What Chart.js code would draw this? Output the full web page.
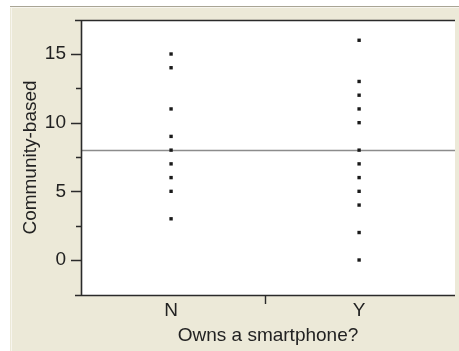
<!DOCTYPE html>
<html>
<head>
<meta charset="utf-8">
<script src="https://cdn.jsdelivr.net/npm/chart.js@4"></script>
<style>
  html, body { margin: 0; padding: 0; background: #ffffff; }
  #wrap { width: 459px; height: 351px; }
</style>
</head>
<body>
<div id="wrap"><canvas id="c" width="459" height="351"></canvas></div>
<script>
// Categories on the x axis (placed at 0 and 1)
const categories = ['N', 'Y'];
// Community-based scores per group
const valuesN = [15, 14, 11, 9, 8, 7, 6, 5, 3];
const valuesY = [16, 13, 12, 11, 10, 8, 7, 6, 5, 4, 2, 0];
// Tick values on the y axis
const majorTicks = [0, 5, 10, 15];
const minorTicks = [2.5, 7.5, 12.5];
// Horizontal reference line
const referenceLine = [8];

const pts = (vals, i) => vals.map(v => ({ x: i, y: v }));

const FONT = 'Liberation Sans, Arial, sans-serif';
const INK = '#222222';

const framePlugin = {
  id: 'frame',
  beforeDraw(chart) {
    const ctx = chart.ctx;
    const W = chart.width, H = chart.height;
    ctx.save();
    ctx.fillStyle = '#ffffff';
    ctx.fillRect(0, 0, W, H);
    ctx.fillStyle = '#ECE9D8';
    ctx.fillRect(10, 6, W - 10, H - 6);
    ctx.fillStyle = '#A9A595';
    ctx.fillRect(10, 6, W - 10, 1);
    ctx.fillStyle = '#F7F5EE';
    ctx.fillRect(10, 7, W - 10, 1);
    ctx.fillRect(11, 7, 1, H - 7);
    const a = chart.chartArea;
    ctx.fillStyle = '#ffffff';
    ctx.fillRect(a.left, a.top, a.right - a.left, a.bottom - a.top);
    ctx.restore();
  },
  beforeDatasetsDraw(chart) {
    const ctx = chart.ctx;
    const a = chart.chartArea;
    const ys = chart.scales.y;
    ctx.save();
    ctx.strokeStyle = '#8c8c8c';
    ctx.lineWidth = 1.5;
    referenceLine.forEach(v => {
      const py = Math.round(ys.getPixelForValue(v)) + 0.5;
      ctx.beginPath();
      ctx.moveTo(a.left, py);
      ctx.lineTo(a.right, py);
      ctx.stroke();
    });
    ctx.restore();
  },
  afterDraw(chart) {
    const ctx = chart.ctx;
    const a = chart.chartArea;
    const ys = chart.scales.y, xs = chart.scales.x;
    ctx.save();
    ctx.strokeStyle = '#2a2a2a';
    ctx.lineWidth = 1.6;
    // frame lines
    ctx.beginPath();
    ctx.moveTo(a.left - 6, a.top + 0.5); ctx.lineTo(a.right, a.top + 0.5);
    ctx.moveTo(a.left - 6, a.bottom + 0.5); ctx.lineTo(a.right, a.bottom + 0.5);
    ctx.moveTo(a.left + 0.5, a.top); ctx.lineTo(a.left + 0.5, a.bottom);
    ctx.stroke();
    // y tick marks
    ctx.lineWidth = 1.4;
    ctx.beginPath();
    majorTicks.forEach(v => {
      const py = Math.round(ys.getPixelForValue(v)) + 0.5;
      ctx.moveTo(a.left - 10, py); ctx.lineTo(a.left, py);
    });
    minorTicks.forEach(v => {
      const py = Math.round(ys.getPixelForValue(v)) + 0.5;
      ctx.moveTo(a.left - 5, py); ctx.lineTo(a.left, py);
    });
    // x tick mark between the two groups
    const px = Math.round(xs.getPixelForValue((categories.length - 1) / 2)) + 0.5;
    ctx.moveTo(px, a.bottom); ctx.lineTo(px, a.bottom + 9);
    ctx.stroke();
    ctx.restore();
  }
};

new Chart(document.getElementById('c'), {
  type: 'scatter',
  data: {
    datasets: [
      { data: pts(valuesN, 0) },
      { data: pts(valuesY, 1) }
    ]
  },
  options: {
    responsive: false,
    animation: false,
    devicePixelRatio: 1,
    layout: { padding: { top: 20, left: 0, right: 0, bottom: 0 } },
    elements: {
      point: {
        pointStyle: 'rect',
        radius: 2.4,
        borderWidth: 0,
        backgroundColor: '#1a1a1a',
        borderColor: '#1a1a1a'
      }
    },
    plugins: {
      legend: { display: false },
      tooltip: { enabled: false }
    },
    scales: {
      x: {
        type: 'linear',
        min: -0.479,
        max: 1.51,
        afterFit(scale) {
          scale.height = 56;
          scale.paddingLeft = 0; scale.paddingRight = 0;
        },
        afterBuildTicks(scale) {
          scale.ticks = categories.map((c, i) => ({ value: i }));
        },
        grid: { display: false, drawTicks: false },
        border: { display: false },
        ticks: {
          padding: 4,
          color: INK,
          font: { family: FONT, size: 19 },
          maxRotation: 0,
          callback: (v) => categories[v] ?? ''
        },
        title: {
          display: true,
          text: 'Owns a smartphone?',
          color: INK,
          font: { family: FONT, size: 19 },
          padding: { top: 0, bottom: 4 }
        }
      },
      y: {
        type: 'linear',
        min: -2.549,
        max: 17.476,
        afterFit(scale) {
          scale.width = 81;
          scale.paddingTop = 0; scale.paddingBottom = 0;
        },
        afterBuildTicks(scale) {
          scale.ticks = majorTicks.map(v => ({ value: v }));
        },
        grid: { display: false, drawTicks: false },
        border: { display: false },
        ticks: {
          padding: 15,
          color: INK,
          font: { family: FONT, size: 19 },
          callback: (v) => String(v)
        },
        title: {
          display: true,
          text: 'Community-based',
          color: INK,
          font: { family: FONT, size: 19 },
          padding: { top: 19, bottom: 0 }
        }
      }
    }
  },
  plugins: [framePlugin]
});
</script>
</body>
</html>
